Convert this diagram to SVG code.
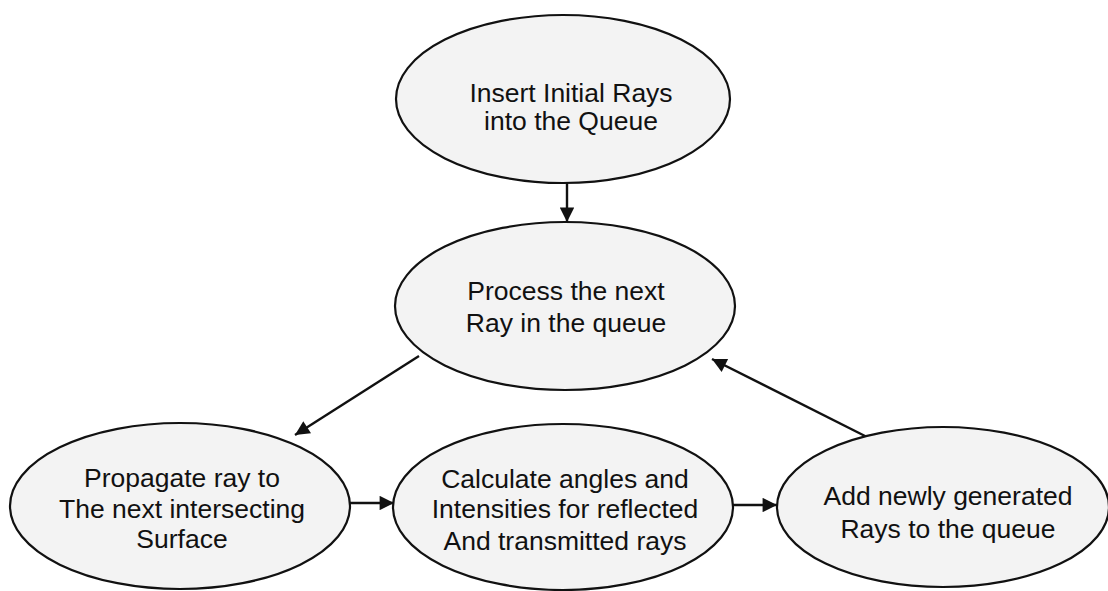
<svg xmlns="http://www.w3.org/2000/svg" width="1108" height="591" viewBox="0 0 1108 591">
  <style>
    .node ellipse { fill: #f3f3f3; stroke: #111; stroke-width: 2.2; }
    .node text { font-family: "Liberation Sans", Arial, sans-serif; font-size: 26.5px; fill: #111; text-anchor: middle; }
    .edge { stroke: #111; stroke-width: 2.4; fill: none; marker-end: url(#arrow); }
  </style>
  <defs>
    <marker id="arrow" viewBox="0 0 10 10" refX="10" refY="5" markerWidth="7" markerHeight="6" orient="auto" markerUnits="strokeWidth">
      <path d="M0,0 L10,5 L0,10 z" fill="#111"/>
    </marker>
  </defs>
  <rect width="1108" height="591" fill="#ffffff"/>
  <g id="connectors">
    <line class="edge" x1="567" y1="183" x2="567" y2="222"/>
    <line class="edge" x1="419" y1="356" x2="295" y2="435"/>
    <line class="edge" x1="350" y1="503" x2="394" y2="503"/>
    <line class="edge" x1="733" y1="505" x2="777" y2="505"/>
    <line class="edge" x1="867" y1="437" x2="712" y2="359"/>
  </g>
  <g id="n1" class="node">
    <ellipse cx="563" cy="99" rx="167" ry="84"/>
    <text x="571" y="102">Insert Initial Rays</text>
    <text x="571" y="130">into the Queue</text>
  </g>
  <g id="n2" class="node">
    <ellipse cx="565" cy="306" rx="170" ry="84"/>
    <text x="566" y="300">Process the next</text>
    <text x="566" y="332">Ray in the queue</text>
  </g>
  <g id="n3" class="node">
    <ellipse cx="180" cy="506" rx="170" ry="83"/>
    <text x="182" y="487">Propagate ray to</text>
    <text x="182" y="518">The next intersecting</text>
    <text x="182" y="548">Surface</text>
  </g>
  <g id="n4" class="node">
    <ellipse cx="563" cy="507" rx="170" ry="83"/>
    <text x="565" y="488">Calculate angles and</text>
    <text x="565" y="518">Intensities for reflected</text>
    <text x="565" y="550">And transmitted rays</text>
  </g>
  <g id="n5" class="node">
    <ellipse cx="943" cy="507" rx="166" ry="80"/>
    <text x="948" y="505">Add newly generated</text>
    <text x="948" y="538">Rays to the queue</text>
  </g>
</svg>
